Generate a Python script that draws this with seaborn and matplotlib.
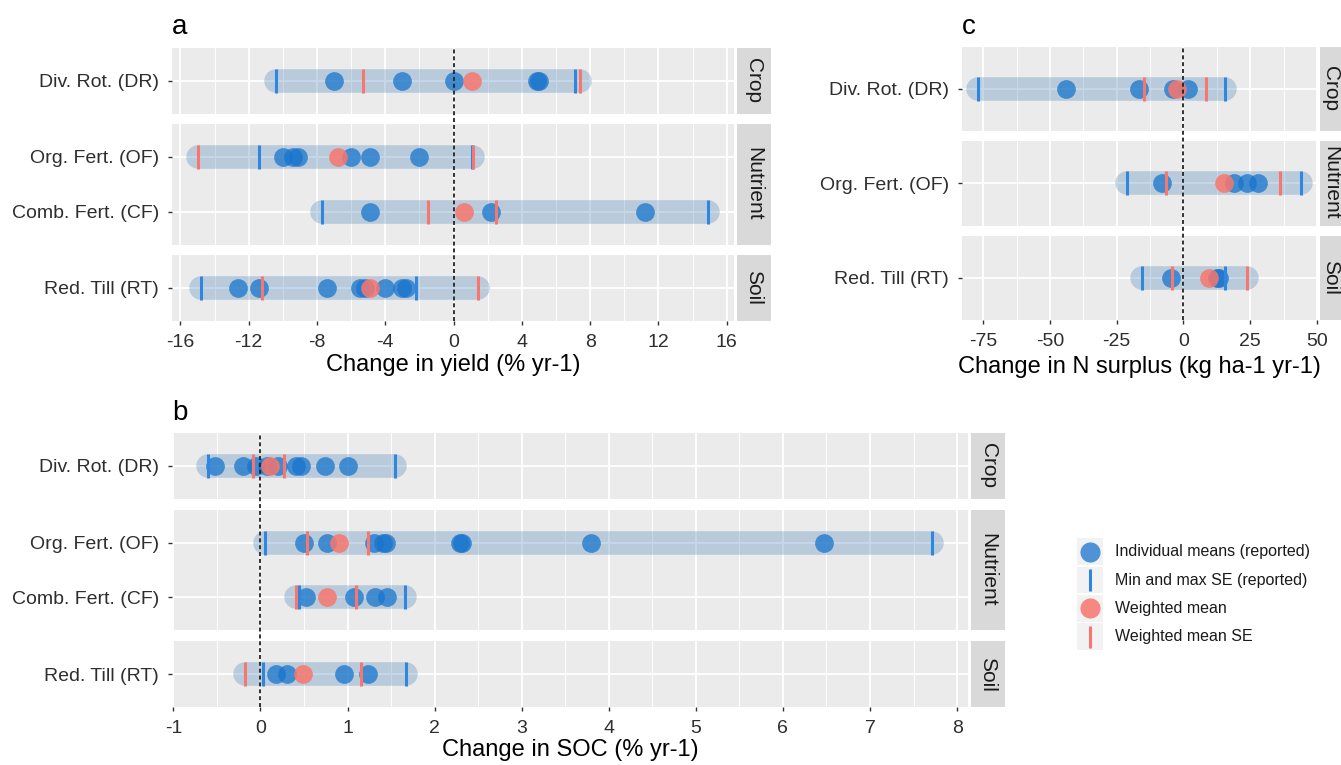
import matplotlib
matplotlib.use('Agg')
import matplotlib.pyplot as plt
from matplotlib.patches import Rectangle
import pandas as pd
import seaborn as sns

plt.rcParams['font.family'] = ['Liberation Sans', 'DejaVu Sans']
plt.rcParams['axes.unicode_minus'] = False

W, H, DPI = 1341, 765, 100

LABELS = {
    'DR': 'Div. Rot. (DR)',
    'OF': 'Org. Fert. (OF)',
    'CF': 'Comb. Fert. (CF)',
    'RT': 'Red. Till (RT)',
}
facets_ab = [('Crop', ['DR']), ('Nutrient', ['OF', 'CF']), ('Soil', ['RT'])]
facets_c = [('Crop', ['DR']), ('Nutrient', ['OF']), ('Soil', ['RT'])]

# a) change in yield (% yr-1)
yield_means = {
    'DR': [-7.0, -3.0, 0.0, 4.9, 5.0],
    'OF': [-10.0, -9.4, -9.1, -6.0, -4.9, -2.0],
    'CF': [-4.9, 2.2, 11.2],
    'RT': [-12.6, -11.4, -7.4, -5.5, -5.2, -4.0, -3.0, -2.8],
}
yield_se = {'DR': (-10.4, 7.1), 'OF': (-11.4, 1.05), 'CF': (-7.7, 14.9), 'RT': (-14.8, -2.2)}
yield_wmean = {'DR': 1.1, 'OF': -6.8, 'CF': 0.6, 'RT': -4.9}
yield_wse = {'DR': (-5.3, 7.4), 'OF': (-15.0, 1.15), 'CF': (-1.5, 2.5), 'RT': (-11.25, 1.4)}
yield_ticks = [-16, -12, -8, -4, 0, 4, 8, 12, 16]

# b) change in SOC (% yr-1)
soc_means = {
    'DR': [-0.52, -0.2, -0.05, 0.07, 0.2, 0.41, 0.47, 0.74, 1.01],
    'OF': [0.5, 0.76, 1.3, 1.41, 1.44, 2.29, 2.31, 3.8, 6.47],
    'CF': [0.52, 1.07, 1.32, 1.45],
    'RT': [0.18, 0.3, 0.96, 1.23],
}
soc_se = {'DR': (-0.6, 1.545), 'OF': (0.05, 7.71), 'CF': (0.44, 1.66), 'RT': (0.03, 1.67)}
soc_wmean = {'DR': 0.11, 'OF': 0.9, 'CF': 0.76, 'RT': 0.49}
soc_wse = {'DR': (-0.08, 0.27), 'OF': (0.54, 1.235), 'CF': (0.41, 1.1), 'RT': (-0.18, 1.16)}
soc_ticks = [-1, 0, 1, 2, 3, 4, 5, 6, 7, 8]

# c) change in N surplus (kg ha-1 yr-1)
nsur_means = {
    'DR': [-43.8, -16.8, -4.0, 1.9],
    'OF': [-7.9, 18.8, 23.8, 28.1],
    'RT': [-4.8, 12.5, 13.5],
}
nsur_se = {'DR': (-76.9, 15.4), 'OF': (-21.3, 44.0), 'RT': (-15.4, 15.4)}
nsur_wmean = {'DR': -2.5, 'OF': 15.3, 'RT': 9.4}
nsur_wse = {'DR': (-14.8, 8.5), 'OF': (-6.5, 36.3), 'RT': (-4.1, 24.0)}
nsur_ticks = [-75, -50, -25, 0, 25, 50]

legend_labels = ['Individual means (reported)', 'Min and max SE (reported)',
                 'Weighted mean', 'Weighted mean SE']

PANEL_BG = '#EBEBEB'
STRIP_BG = '#D9D9D9'
BAND = '#4682B4'
BLUE = '#1874CD'
BLUE_SE = '#2F86DE'
RED = '#F8766D'
TICK_COL = '#2E2E2E'

fig = plt.figure(figsize=(W / DPI, H / DPI), dpi=DPI)


def px_axes(x0, y0, x1, y1):
    return fig.add_axes([x0 / W, 1 - y1 / H, (x1 - x0) / W, (y1 - y0) / H])


def draw_panel(facets, means, se, wmean, wse, ticks, box, strip_w, xlabel, xlabel_y, letter, gap=10):
    x0, y0, x1, y1 = box
    # facet heights like facet_grid(space = "free_y")
    units = [len(keys) + 0.2 for _, keys in facets]
    unit_px = (y1 - y0 - gap * (len(facets) - 1)) / sum(units)
    vals = []
    for k in means:
        vals += list(se[k]) + list(wse[k]) + means[k] + [wmean[k]]
    lo, hi = min(vals), max(vals)
    pad = (hi - lo) * 0.05
    xlim = (lo - pad, hi + pad)
    minor = [(a + b) / 2 for a, b in zip(ticks[:-1], ticks[1:])]

    top = y0
    for n, ((group, keys), u) in enumerate(zip(facets, units)):
        bottom = top + u * unit_px
        ax = px_axes(x0, top, x1, bottom)
        ax.set_facecolor(PANEL_BG)
        order = [LABELS[k] for k in keys]
        pts = pd.DataFrame([(LABELS[k], v) for k in keys for v in means[k]],
                           columns=['practice', 'value'])
        wm = pd.DataFrame([(LABELS[k], wmean[k]) for k in keys], columns=['practice', 'value'])

        sns.stripplot(data=pts, x='value', y='practice', order=order, orient='h', jitter=False,
                      size=13.5, color=BLUE, alpha=0.75, linewidth=0, ax=ax, zorder=3)
        sns.stripplot(data=wm, x='value', y='practice', order=order, orient='h', jitter=False,
                      size=13.5, color=RED, alpha=0.85, linewidth=0, ax=ax, zorder=4)
        for j, k in enumerate(keys):
            ends = list(se[k]) + list(wse[k])
            ax.plot([min(ends), max(ends)], [j, j], color=BAND, alpha=0.3, lw=17,
                    solid_capstyle='round', zorder=2)
            ax.scatter(se[k], [j, j], marker='|', s=290, linewidths=2.2, color=BLUE_SE, zorder=5)
            ax.scatter(wse[k], [j, j], marker='|', s=290, linewidths=2.2, color=RED, zorder=5)

        ax.set_xlim(*xlim)
        ax.set_ylim(len(keys) - 0.4, -0.6)
        ax.set_xticks(ticks)
        ax.set_xticks(minor, minor=True)
        ax.set_axisbelow(True)
        ax.grid(which='major', color='white', lw=1.3)
        ax.grid(which='minor', axis='x', color='white', lw=0.7)
        for s in ax.spines.values():
            s.set_visible(False)
        ax.set_xlabel('')
        ax.set_ylabel('')
        ax.tick_params(axis='y', length=3, width=1, color='#333333', pad=6.5,
                       labelsize=14, labelcolor=TICK_COL)
        ax.tick_params(axis='x', which='minor', length=0)
        if n == len(facets) - 1:
            ax.tick_params(axis='x', which='major', length=3, width=1, color='#333333',
                           pad=6.5, labelsize=14, labelcolor=TICK_COL)
        else:
            ax.tick_params(axis='x', which='major', length=0, labelbottom=False)

        sax = px_axes(x1 + 3, top, x1 + 3 + strip_w, bottom)
        sax.set_facecolor(STRIP_BG)
        sax.set_xticks([])
        sax.set_yticks([])
        for s in sax.spines.values():
            s.set_visible(False)
        sax.text(0.5, 0.5, group, rotation=-90, ha='center', va='center',
                 fontsize=15, color='#1A1A1A', transform=sax.transAxes)
        top = bottom + gap

    # dashed zero line running through all facets and the gaps between them
    lax = px_axes(x0, y0, x1, y1)
    lax.patch.set_visible(False)
    lax.axis('off')
    lax.set_xlim(*xlim)
    lax.axvline(0, color='#222222', lw=1.3, ls=(0, (2.2, 1.6)))

    fig.text((x0 + x1) / 2 / W, 1 - xlabel_y / H, xlabel, ha='center', va='center',
             fontsize=17, color='black')
    fig.text(x0 / W, 1 - (y0 - 20) / H, letter, ha='left', va='center', fontsize=20,
             color='black')


draw_panel(facets_ab, yield_means, yield_se, yield_wmean, yield_wse, yield_ticks,
           (172, 47.5, 733.5, 321), 34, 'Change in yield (% yr-1)', 365, 'a')
draw_panel(facets_ab, soc_means, soc_se, soc_wmean, soc_wse, soc_ticks,
           (172, 433, 968, 707), 34, 'Change in SOC (% yr-1)', 750, 'b', gap=11)
draw_panel(facets_c, nsur_means, nsur_se, nsur_wmean, nsur_wse, nsur_ticks,
           (962, 46.5, 1317, 320), 22, 'Change in N surplus (kg ha-1 yr-1)', 367, 'c')

# legend
kax = px_axes(1077, 537.5, 1103, 651)
kax.set_xlim(0, 1)
kax.set_ylim(4, 0)
kax.axis('off')
for i, lab in enumerate(legend_labels):
    kax.add_patch(Rectangle((0, i + 0.03), 1, 0.94, facecolor='#F2F2F2', edgecolor='none'))
    fig.text(1115 / W, 1 - (537.5 + 28.4 * (i + 0.5)) / H, lab, ha='left', va='center',
             fontsize=11.5, color='#1A1A1A')
kax.scatter([0.5], [0.5], s=210, color=BLUE, alpha=0.75, linewidths=0)
kax.scatter([0.5], [1.5], marker='|', s=250, linewidths=2.2, color=BLUE_SE)
kax.scatter([0.5], [2.5], s=210, color=RED, alpha=0.85, linewidths=0)
kax.scatter([0.5], [3.5], marker='|', s=250, linewidths=2.2, color=RED)

fig.savefig('out.png', dpi=DPI)
